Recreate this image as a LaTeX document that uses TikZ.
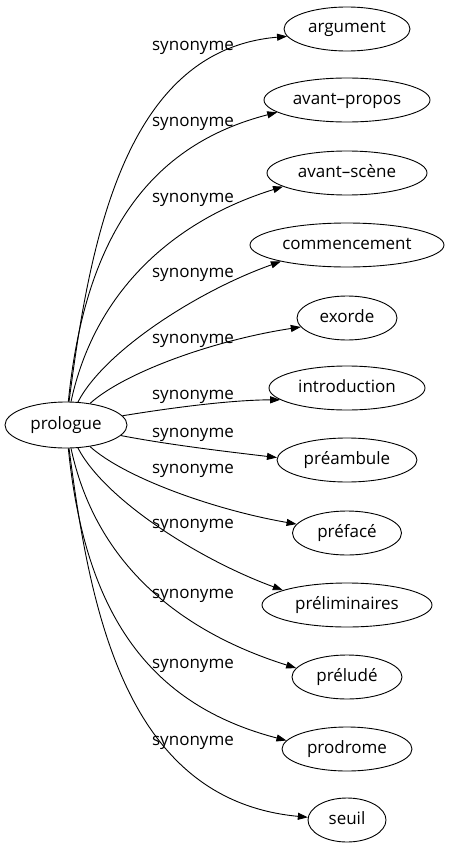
\documentclass[tikz,border=0pt]{standalone}
\usepackage{fontspec}
\setmainfont{Open Sans}
\usetikzlibrary{arrows.meta,shapes.geometric}
\begin{document}
\begin{tikzpicture}[x=1pt,y=-1pt,
  word/.style={draw, ellipse, line width=0.9pt, inner sep=0pt, minimum height=44pt,
    font=\fontsize{17}{19}\selectfont, text height=12pt, text depth=4pt},
  lbl/.style={anchor=base, inner sep=0pt, font=\fontsize{17}{19}\selectfont},
  syn/.style={line width=0.9pt, -{Triangle[length=10pt,width=7pt]}}]
\useasboundingbox (0,0) rectangle (449,851);
\node[word, minimum width=122pt, minimum height=46pt] (p) at (66,425) {prologue};
\node[word, minimum width=126pt] (arg) at (347,29) {argument};
\node[word, minimum width=166pt] (ap) at (347,100) {avant–propos};
\node[word, minimum width=160pt] (as) at (347,173) {avant–scène};
\node[word, minimum width=194pt] (com) at (347,245) {commencement};
\node[word, minimum width=100pt] (ex) at (347,318) {exorde};
\node[word, minimum width=156pt] (intro) at (347,388) {introduction};
\node[word, minimum width=140pt] (pream) at (347,460) {préambule};
\node[word, minimum width=109pt] (pref) at (347,533) {préfacé};
\node[word, minimum width=170pt] (prelim) at (347,605) {préliminaires};
\node[word, minimum width=110pt] (prelud) at (347,677) {préludé};
\node[word, minimum width=130pt] (prod) at (347,749) {prodrome};
\node[word, minimum width=78pt] (seuil) at (347,820) {seuil};

\draw[syn] (p) .. controls (90,240) and (125,50) .. (arg.187);
\draw[syn] (p) .. controls (85,235) and (150,145) .. (ap.190);
\draw[syn] (p) .. controls (95,290) and (175,220) .. (as.192);
\draw[syn] (p) .. controls (105,350) and (200,290) .. (com.194);
\draw[syn] (p) .. controls (125,372) and (215,340) .. (ex.191);
\draw[syn] (p) .. controls (170,408) and (230,400) .. (intro.190);
\draw[syn] (p) .. controls (170,445) and (230,452) .. (pream.178);
\draw[syn] (p) .. controls (125,478) and (215,510) .. (pref.170);
\draw[syn] (p) .. controls (105,500) and (200,560) .. (prelim.167);
\draw[syn] (p) .. controls (95,560) and (175,630) .. (prelud.170);
\draw[syn] (p) .. controls (85,615) and (150,705) .. (prod.172);
\draw[syn] (p) .. controls (90,610) and (125,800) .. (seuil.176);

\node[lbl] (l1) at (193,51) {synonyme};
\node[lbl] (l2) at (193,126) {synonyme};
\node[lbl] (l3) at (193,202) {synonyme};
\node[lbl] (l4) at (193,277) {synonyme};
\node[lbl] (l5) at (193,343) {synonyme};
\node[lbl] (l6) at (193,399) {synonyme};
\node[lbl] (l7) at (193,437) {synonyme};
\node[lbl] (l8) at (193,473) {synonyme};
\node[lbl] (l9) at (193,528) {synonyme};
\node[lbl] (l10) at (193,598) {synonyme};
\node[lbl] (l11) at (193,668) {synonyme};
\node[lbl] (l12) at (193,745) {synonyme};
\end{tikzpicture}
\end{document}
